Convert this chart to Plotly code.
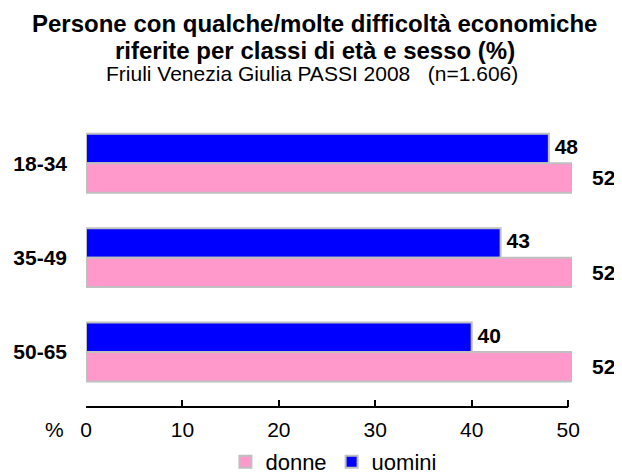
import plotly.graph_objects as go

categories = ["18-34", "35-49", "50-65"]
donne = [52, 52, 52]
uomini = [48, 43, 40]
tick_vals = [0, 10, 20, 30, 40, 50]

title_line1 = "Persone con qualche/molte difficoltà economiche"
title_line2 = "riferite per classi di età e sesso (%)"
subtitle = "Friuli Venezia Giulia PASSI 2008   (n=1.606)"

PINK = "#FF99CC"
BLUE = "#0000FF"
BORDER = "#C0C0C0"
FONT = "Liberation Sans, Arial, sans-serif"
FS = 21
X_RANGE = [0, 50.4]

pos = list(range(len(categories)))
half = 0.156  # half distance between the two bars of a group (in category units)

fig = go.Figure()
fig.add_trace(go.Bar(
    y=pos, x=uomini, name="uomini", orientation="h",
    marker=dict(color=BLUE, line=dict(color=BORDER, width=2)),
))
fig.add_trace(go.Bar(
    y=pos, x=donne, name="donne", orientation="h",
    marker=dict(color=PINK, line=dict(color=BORDER, width=2)),
))
# value labels for uomini (inside the axis range)
fig.add_trace(go.Scatter(
    x=uomini, y=[p - half for p in pos], mode="text",
    text=[f"<b>\u00a0{v}</b>" for v in uomini], textposition="middle right",
    textfont=dict(size=FS, family=FONT, color="black"),
    cliponaxis=False, showlegend=False, hoverinfo="skip",
))
# value labels for donne (bars run past the axis end, so place them by axis fraction)
for p, v in zip(pos, donne):
    fig.add_annotation(x=(v - X_RANGE[0]) / (X_RANGE[1] - X_RANGE[0]), xref="paper",
                       y=p + half, yref="y", text=f"<b>{v}</b>", showarrow=False,
                       xanchor="left", xshift=3,
                       font=dict(size=FS, family=FONT, color="black"))

fig.update_layout(
    width=614, height=468,
    margin=dict(l=78, r=50, t=108, b=69, autoexpand=False),
    paper_bgcolor="white", plot_bgcolor="white",
    barmode="group", bargap=0.376, bargroupgap=0,
    font=dict(family=FONT, color="black", size=FS),
    showlegend=True,
    legend=dict(orientation="h", xref="container", yref="container",
                x=0.53, xanchor="center", y=0.03, yanchor="middle",
                traceorder="reversed", font=dict(size=22, family=FONT),
                itemwidth=30, tracegroupgap=0),
    xaxis=dict(range=X_RANGE, tickvals=tick_vals, ticks="inside", ticklen=7,
               tickwidth=2, tickcolor="black", showline=False, showgrid=False,
               zeroline=False, tickfont=dict(size=FS, family=FONT),
               ticklabelstandoff=8),
    yaxis=dict(range=[2.582, -0.5], tickvals=pos,
               ticktext=[f"<b>{c}</b>" for c in categories],
               showgrid=False, zeroline=False, showline=False,
               ticks="", tickfont=dict(size=FS, family=FONT), ticklabelstandoff=18),
    shapes=[dict(type="line", xref="x", yref="paper", x0=tick_vals[0], x1=tick_vals[-1],
                 y0=0, y1=0, line=dict(color="black", width=2))],
)

fig.add_annotation(x=0.471, y=1.0, xref="paper", yref="paper", yanchor="middle",
                   yshift=93, showarrow=False, text=f"<b>{title_line1}</b>",
                   font=dict(size=24, family=FONT, color="black"))
fig.add_annotation(x=0.471, y=1.0, xref="paper", yref="paper", yanchor="middle",
                   yshift=66, showarrow=False, text=f"<b>{title_line2}</b>",
                   font=dict(size=24, family=FONT, color="black"))
fig.add_annotation(x=0.465, y=1.0, xref="paper", yref="paper", yanchor="middle",
                   yshift=43, showarrow=False, text=subtitle,
                   font=dict(size=21, family=FONT, color="black"))
fig.add_annotation(x=-0.088, y=0, xref="paper", yref="paper", yanchor="middle",
                   yshift=-22, showarrow=False, text="%",
                   font=dict(size=FS, family=FONT, color="black"))

fig.write_html("out.html")
